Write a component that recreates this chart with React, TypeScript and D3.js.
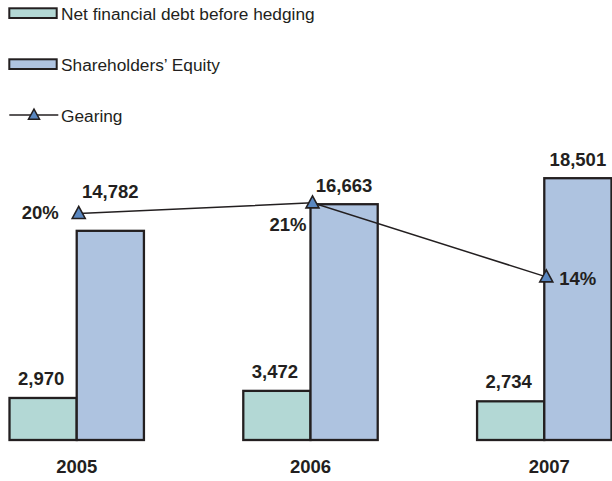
import React from "react";
import * as d3 from "d3";

const years = ["2005", "2006", "2007"];
const netDebt = [2970, 3472, 2734];
const equity = [14782, 16663, 18501];
const gearing = [20, 21, 14];
const gearingLabelPlacement = ["left", "below-left", "right"];
const seriesNames = ["Net financial debt before hedging", "Shareholders\u2019 Equity"];
const lineName = "Gearing";

const W = 612;
const H = 481;
const FONT = "'Liberation Sans', Arial, Helvetica, sans-serif";
const INK = "#231f20";
const GREEN = "#b3d8d5";
const BLUE = "#aec3e0";
const MARKER = "#5a87c0";

const fmt = d3.format(",");

export default function App() {
  const x = d3.scaleBand<string>().domain(years).range([9.5, 611.5]).paddingInner(0.425).paddingOuter(0);
  const inner = d3.scaleBand<string>().domain(["debt", "equity"]).range([0, x.bandwidth()]).padding(0);
  const y = d3.scaleLinear().domain([0, 18501]).range([440, 178.2]);
  const g = d3.scaleLinear().domain([0, 25]).range([424.8, 160.6]);

  const tri = (cx: number, cy: number, s = 1) =>
    `M${cx},${cy - 7 * s}L${cx + 6.5 * s},${cy + 5 * s}L${cx - 6.5 * s},${cy + 5 * s}Z`;

  const points = years.map((yr, i) => [x(yr)! + x.bandwidth() / 2 + 2, g(gearing[i])] as [number, number]);
  const line = d3.line()(points) || "";

  const bold = { fontFamily: FONT, fontWeight: 700, fontSize: 18.5, fill: INK } as const;
  const legendText = { fontFamily: FONT, fontSize: 17.3, fill: INK } as const;

  return (
    <svg width={W} height={H} style={{ position: "absolute", left: 0, top: 0, background: "#fff" }}>
      {/* legend */}
      <g>
        <rect x={9.3} y={8.3} width={47.4} height={9.7} fill={GREEN} stroke={INK} strokeWidth={2} />
        <text x={61} y={19.5} style={legendText}>{seriesNames[0]}</text>
        <rect x={9.3} y={59.3} width={47.4} height={9.7} fill={BLUE} stroke={INK} strokeWidth={2} />
        <text x={61} y={70.5} style={legendText}>{seriesNames[1]}</text>
        <line x1={9.3} x2={58.3} y1={115} y2={115} stroke={INK} strokeWidth={1.5} />
        <path d={tri(34, 115, 0.85)} fill={MARKER} stroke={INK} strokeWidth={1.5} />
        <text x={61} y={121.5} style={legendText}>{lineName}</text>
      </g>

      {/* bars */}
      {years.map((yr, i) => {
        const x0 = x(yr)!;
        const dTop = y(netDebt[i]);
        const eTop = y(equity[i]);
        const mY = points[i][1];
        const eLabelY = mY < eTop - 5 ? mY - 15 : eTop - 12;
        return (
          <g key={yr}>
            <rect x={x0 + inner("debt")!} y={dTop} width={inner.bandwidth()} height={y(0) - dTop}
              fill={GREEN} stroke={INK} strokeWidth={2.3} />
            <rect x={x0 + inner("equity")!} y={eTop} width={inner.bandwidth()} height={y(0) - eTop}
              fill={BLUE} stroke={INK} strokeWidth={2.3} />
            <text x={x0 + inner("debt")! + inner.bandwidth() / 2 - 2} y={dTop - 13} textAnchor="middle" style={bold}>
              {fmt(netDebt[i])}
            </text>
            <text x={x0 + inner("equity")! + inner.bandwidth() / 2} y={eLabelY} textAnchor="middle" style={bold}>
              {fmt(equity[i])}
            </text>
            <text x={x0 + x.bandwidth() / 2 + (i === years.length - 1 ? 5 : 0)} y={473} textAnchor="middle" style={bold}>{yr}</text>
          </g>
        );
      })}

      {/* gearing line */}
      <path d={line} fill="none" stroke={INK} strokeWidth={1.5} />
      {points.map(([px, py], i) => {
        const pl = gearingLabelPlacement[i];
        let tx = px, ty = py, anchor: "start" | "end" = "end";
        if (pl === "left") { tx = px - 20; ty = py + 6; anchor = "end"; }
        else if (pl === "below-left") { tx = px - 6; ty = py + 28; anchor = "end"; }
        else { tx = px + 13; ty = py + 8; anchor = "start"; }
        return (
          <g key={years[i]}>
            <path d={tri(px, py)} fill={MARKER} stroke={INK} strokeWidth={1.6} />
            <text x={tx} y={ty} textAnchor={anchor} style={bold}>{gearing[i]}%</text>
          </g>
        );
      })}
    </svg>
  );
}
